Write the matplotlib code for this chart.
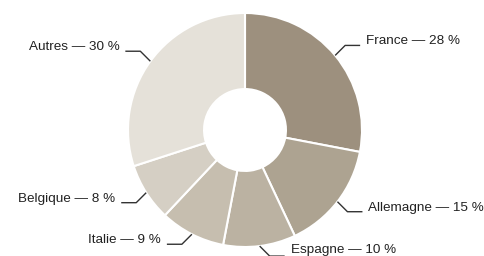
import numpy as np
import matplotlib
matplotlib.use("Agg")
import matplotlib.pyplot as plt

# Data
pays = ["France", "Allemagne", "Espagne", "Italie", "Belgique", "Autres"]
parts = [28, 15, 10, 9, 8, 30]
couleurs = ["#9d907e", "#ada391", "#bbb2a2", "#c6beaf", "#d5cfc4", "#e5e1d9"]

plt.rcParams["font.family"] = ["Liberation Sans", "DejaVu Sans"]

fig = plt.figure(figsize=(4.85, 2.56), dpi=100)
ax = fig.add_axes([0, 0, 1, 1])

cx, cy, R = 245, 126, 117
wedges, _ = ax.pie(parts, colors=couleurs, startangle=90, counterclock=False,
                   center=(cx, cy), radius=R, frame=True,
                   wedgeprops=dict(width=R * 0.65, edgecolor="white", linewidth=1.5))
ax.set_xlim(0, 485)
ax.set_ylim(0, 256)
ax.set_aspect("equal")
ax.axis("off")

# leader lines + labels
for w, nom, p in zip(wedges, pays, parts):
    a = np.deg2rad((w.theta1 + w.theta2) / 2)
    x0, y0 = cx + R * np.cos(a), cy + R * np.sin(a)
    sx = 1 if np.cos(a) >= 0 else -1
    sy = 1 if np.sin(a) >= 0 else -1
    x1, y1 = x0 + 10 * sx, y0 + 10 * sy
    x2 = x1 + 15 * sx
    ax.plot([x0, x1, x2], [y0, y1, y1], color="#333333", lw=1, solid_capstyle="butt")
    ty = y1 + 4
    if nom == "Espagne":
        ty = y1 + 6  # keep it inside the bottom edge
    ax.text(x2 + 6 * sx, ty, f"{nom} \u2014 {p} %", fontsize=9.7, color="#222222",
            ha="left" if sx > 0 else "right", va="center")

fig.savefig("out.png", dpi=100, facecolor="white")
